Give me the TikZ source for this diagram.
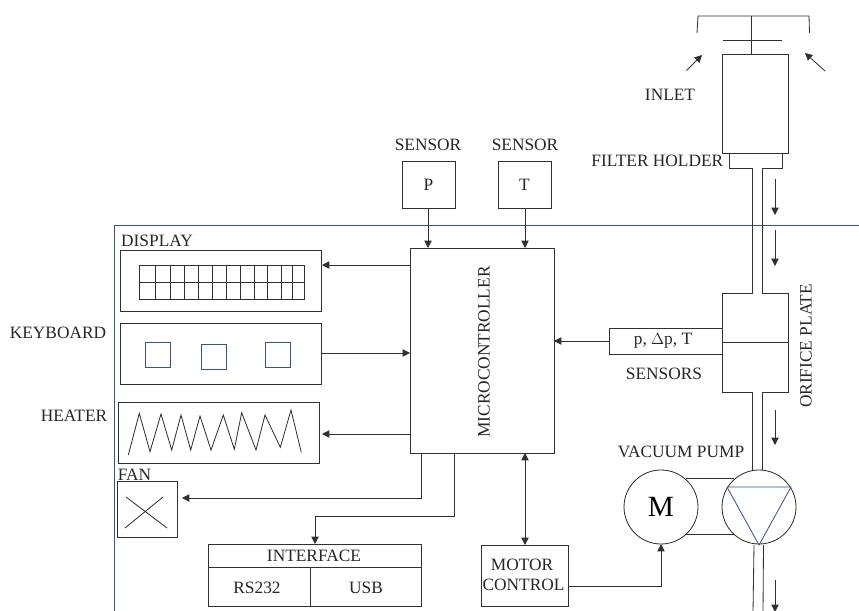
\documentclass[tikz,border=0pt]{standalone}
\usepackage{fontspec}
\setmainfont{Liberation Serif}
\usetikzlibrary{arrows.meta}
\definecolor{ln}{HTML}{303030}
\definecolor{bl}{HTML}{3B5380}
\tikzset{
  x=0.75pt,y=-0.75pt,
  ln/.style={draw=ln,line width=0.62pt},
  box/.style={ln,rectangle,inner sep=0pt,outer sep=0pt},
  arr/.style={ln,-{Triangle[length=5.5pt,width=5.5pt]}},
  darr/.style={ln,{Triangle[length=5.5pt,width=5.5pt]}-{Triangle[length=5.5pt,width=5.5pt]}},
  lbl/.style={font=\fontsize{13}{15}\selectfont,text=black!85,inner sep=0pt},
  bluebox/.style={draw=bl,line width=0.62pt,rectangle,inner sep=0pt,outer sep=0pt},
  wheel/.style={ln,circle,inner sep=0pt,outer sep=0pt,minimum size=55.5pt},
}
\newcommand{\pxbox}[6][box]{\node[#1,minimum width={(#5-#3)*0.75pt},minimum height={(#6-#4)*0.75pt}] (#2) at ({(#3+#5)/2},{(#4+#6)/2}) {};}
\begin{document}
\begin{tikzpicture}
\clip (0,0) rectangle (859,610);
% housing
\coordinate (hb) at (114,612);
\coordinate (hc) at (114,225);
\coordinate (hr) at (861,225);
\draw[draw=bl,line width=0.62pt] (hb) -- (hc) -- (hr);

% inlet
\coordinate (capL) at (697,33);
\coordinate (capLt) at (698,16);
\coordinate (capRt) at (809,16);
\coordinate (capR) at (809.5,33);
\draw[ln] (capL) -- (capLt) -- (capRt) -- (capR);
\pxbox{filterbody}{722.5}{54}{788}{153}
\pxbox{filterholder}{729}{153}{782}{168}
\coordinate (stemtop) at (751,16);
\draw[ln] (stemtop) -- (stemtop |- filterbody.north);
\coordinate (barL) at (723,40);
\coordinate (barR) at (782,40);
\draw[ln] (barL) -- (barR);
\coordinate (ia1) at (686.5,70.5);
\coordinate (ia2) at (702,55);
\coordinate (ib1) at (825,71);
\coordinate (ib2) at (805,53);
\draw[arr] (ia1) -- (ia2);
\draw[arr] (ib1) -- (ib2);
\node[lbl] (inlet) at (670,95) {INLET};
\node[lbl,anchor=east] (fh) at (723.5,161) {FILTER HOLDER};

% orifice
\pxbox{orifice}{722.5}{293}{788}{392}
\draw[ln] (orifice.west) -- (orifice.east);
\pxbox{sens}{609}{328}{722.5}{354}
\node[lbl] (senst) at (663,341) {p, $\Delta$p, T};
\node[lbl] (sensl) at (664,374) {SENSORS};
\node[lbl,rotate=90] (orl) at (806,346) {ORIFICE PLATE};

% pipes upper
\coordinate (p1a) at (752,168); \coordinate (p1b) at (752,293);
\coordinate (p2a) at (762.5,168); \coordinate (p2b) at (762.5,293);
\draw[white,line width=1.2pt] (752.5,168) -- (762,168);
\draw[white,line width=1.2pt] (752.5,293) -- (762,293);
\draw[ln] (p1a) -- (p1b);
\draw[ln] (p2a) -- (p2b);
\coordinate (fa1) at (775,179); \coordinate (fa2) at (775,215);
\coordinate (fb1) at (775,230); \coordinate (fb2) at (775,266);
\draw[arr] (fa1) -- (fa2);
\draw[arr] (fb1) -- (fb2);

% pump and motor
\node[wheel] (pump) at (759,507) {};
\node[wheel,font=\fontsize{22}{24}\selectfont] (motor) at (661,507) {M};
\coordinate (lk1a) at (686,478); \coordinate (lk1b) at (734,478);
\coordinate (lk2a) at (686,534); \coordinate (lk2b) at (734,534);
\draw[ln] (lk1a) -- (lk1b);
\draw[ln] (lk2a) -- (lk2b);
\coordinate (t1) at (727,487); \coordinate (t2) at (791,487); \coordinate (t3) at (759,545);
\draw[draw=bl,line width=0.62pt] (t1) -- (t2) -- (t3) -- cycle;
\node[lbl] (vp) at (681,452) {VACUUM PUMP};
% pipes lower
\draw[white,line width=1.2pt] (752.5,392) -- (762,392);
\coordinate (p3a) at (752,392); \coordinate (p3b) at (752,470.5);
\coordinate (p4a) at (762.5,392); \coordinate (p4b) at (762.5,470);
\draw[ln] (p3a) -- (p3b);
\draw[ln] (p4a) -- (p4b);
\coordinate (fc1) at (775,410); \coordinate (fc2) at (775,445);
\draw[arr] (fc1) -- (fc2);
\coordinate (p5a) at (754,545); \coordinate (p5b) at (753,612);
\coordinate (p6a) at (763.5,545); \coordinate (p6b) at (763,612);
\draw[ln] (p5a) -- (p5b);
\draw[ln] (p6a) -- (p6b);
\coordinate (fd1) at (775,580); \coordinate (fd2) at (775,612);
\draw[arr] (fd1) -- (fd2);

% microcontroller
\pxbox{micro}{410}{248}{554}{453}
\node[lbl,rotate=90] (microl) at (484,352) {MICROCONTROLLER};
\draw[arr] (sens.west) -- (sens.west -| micro.east);

% sensors
\pxbox{sp}{402}{161}{455}{208}
\pxbox{st}{498}{161}{551}{208}
\node[lbl] (spt) at (sp.center) {P};
\node[lbl] (stt) at (st.center) {T};
\node[lbl] (spl) at (428,145) {SENSOR};
\node[lbl] (stl) at (525,145) {SENSOR};
\coordinate (spo) at (428,208);
\coordinate (sto) at (525,208);
\draw[arr] (spo) -- (spo |- micro.north);
\draw[arr] (sto) -- (sto |- micro.north);

% display
\pxbox{disp}{120}{250}{321}{311}
\pxbox{grid}{139}{265}{304}{299}
\draw[ln] (grid.west) -- (grid.east);
\foreach \g in {155,170,184,198,212,226,240,254,267,281,292}
  \draw[ln] (\g,265) -- (\g,299);
\node[lbl] (displ) at (157,241) {DISPLAY};
\coordinate (dispin) at (322,265);
\draw[arr] (micro.west |- dispin) -- (dispin);

% keyboard
\pxbox{kbd}{120}{323}{321}{384}
\pxbox[bluebox]{k1}{145}{342}{170}{367}
\pxbox[bluebox]{k2}{201.5}{344}{226.5}{369}
\pxbox[bluebox]{k3}{265}{342}{290}{367}
\node[lbl] (kbdl) at (58,333) {KEYBOARD};
\coordinate (kbdout) at (321,353);
\draw[arr] (kbdout) -- (kbdout -| micro.west);

% heater
\pxbox{heat}{118}{402}{319}{463}
\draw[ln] (128.3,455) -- (139.3,413.3) -- (150,451.7) -- (161,414) -- (171.7,450) -- (181,415) -- (190.7,450) -- (200,416) -- (211,450) -- (223.3,415) -- (234.3,449.3) -- (241.7,412.7) -- (256,450) -- (265,415) -- (280.3,447.3) -- (291,410) -- (301.3,452.3);
\node[lbl] (heatl) at (74,416) {HEATER};
\coordinate (heatin) at (322,434);
\draw[arr] (micro.west |- heatin) -- (heatin);

% fan
\pxbox{fan}{117}{481.5}{177.5}{537}
\draw[ln] (126,497) -- (167,528);
\draw[ln] (163,497) -- (125,528);
\node[lbl,anchor=west] (fanl) at (117.5,475) {FAN};
\coordinate (fanin) at (182,498);
\coordinate (fanout) at (421.5,453);
\draw[arr] (fanout) -- (fanout |- fanin) -- (fanin);

% interface
\pxbox{iface}{208.5}{544}{421.5}{606}
\coordinate (ifl) at (208.5,567.5);
\draw[ln] (ifl) -- (ifl -| iface.east);
\coordinate (ifv) at (310,567.5);
\draw[ln] (ifv) -- (ifv |- iface.south);
\node[lbl] (ifacel) at (314,555.5) {INTERFACE};
\node[lbl] (rs) at (257,588) {RS232};
\node[lbl] (usb) at (366,588) {USB};
\coordinate (ifout) at (454.5,453);
\coordinate (ifmid) at (315,516);
\draw[arr] (ifout) -- (ifout |- ifmid) -- (ifmid) -- (ifmid |- iface.north);

% motor control
\pxbox{mc}{481.5}{545}{568.5}{606}
\node[lbl] (mc1) at (522,565) {MOTOR};
\node[lbl] (mc2) at (523.5,585) {CONTROL};
\draw[darr] (mc.north |- micro.south) -- (mc.north);
\coordinate (mcout) at (568.5,586);
\draw[arr] (mcout) -- (mcout -| motor.south) -- (motor.south);
\end{tikzpicture}
\end{document}
